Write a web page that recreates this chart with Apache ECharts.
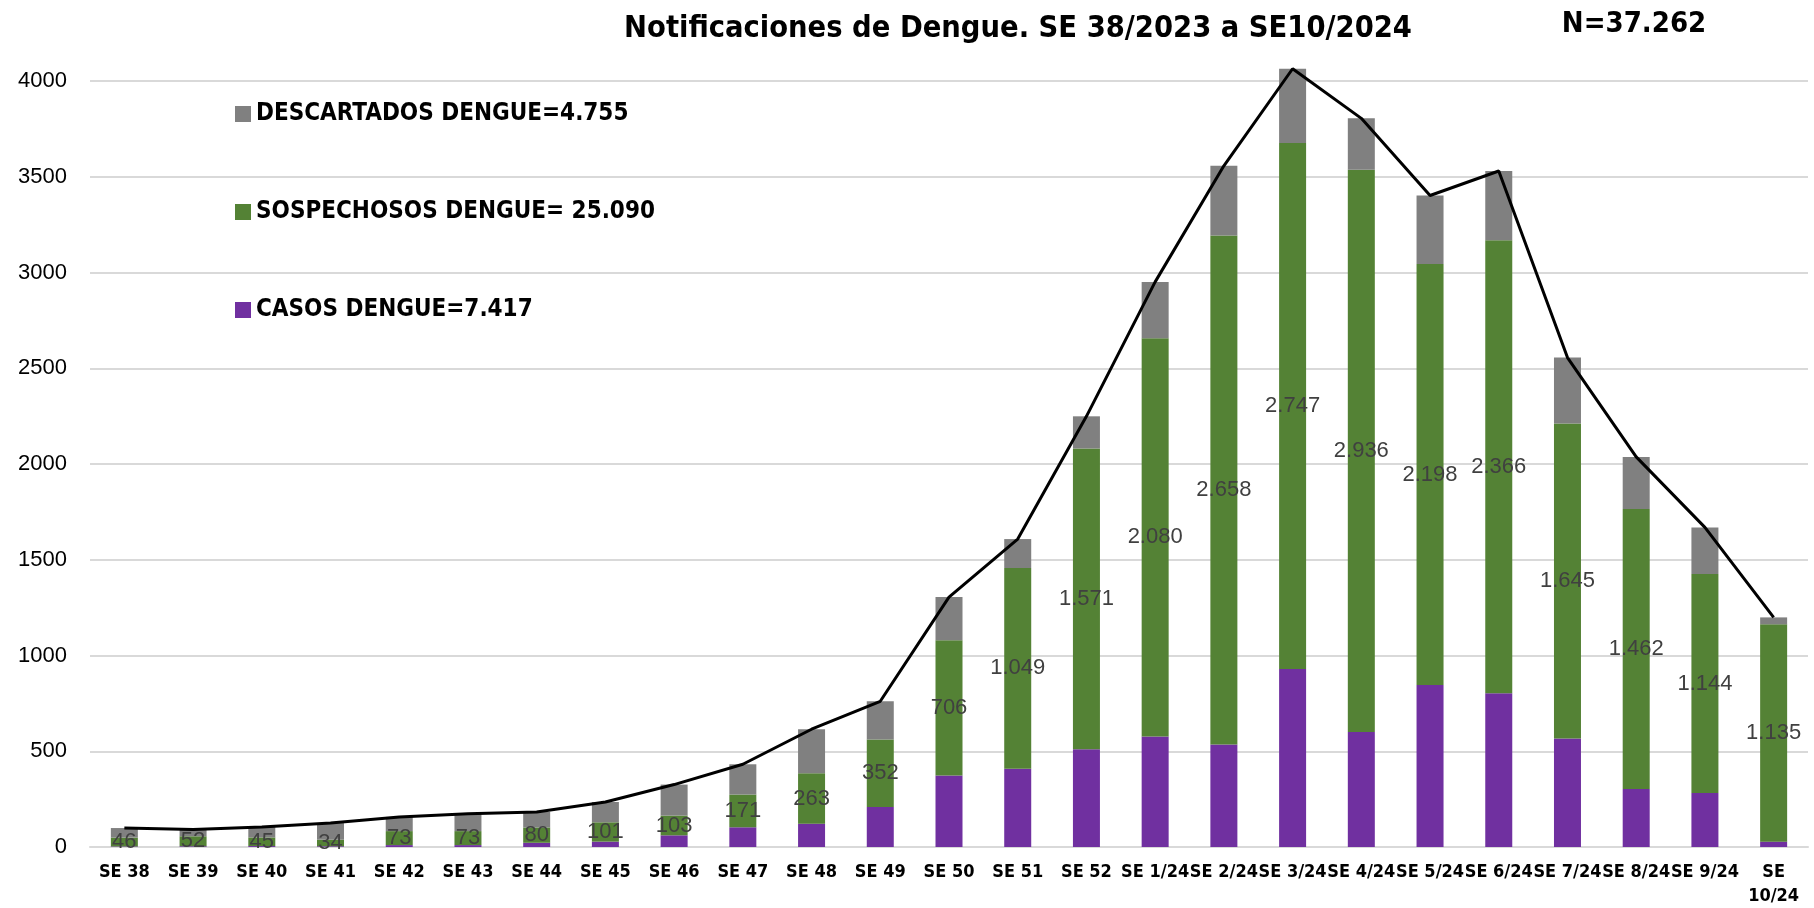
<!DOCTYPE html>
<html>
<head>
<meta charset="utf-8">
<script src="https://cdn.jsdelivr.net/npm/echarts@6/dist/echarts.min.js"></script>
<style>html,body{margin:0;padding:0;background:#fff}#chart{width:1814px;height:908px}</style>
</head>
<body>
<div id="chart"></div>
<script>
const categories = ['SE 38','SE 39','SE 40','SE 41','SE 42','SE 43','SE 44','SE 45','SE 46','SE 47','SE 48','SE 49','SE 50','SE 51','SE 52','SE 1/24','SE 2/24','SE 3/24','SE 4/24','SE 5/24','SE 6/24','SE 7/24','SE 8/24','SE 9/24','SE 10/24'];
const casos = [3,4,5,4,10,10,22,28,61,103,122,209,373,408,510,577,535,929,601,846,803,566,303,282,28];
const sospechosos = [46,52,45,34,73,73,80,101,103,171,263,352,706,1049,1571,2080,2658,2747,2936,2198,2366,1645,1462,1144,1135];
const descartados = [50,35,55,87,74,91,81,106,162,158,230,200,226,151,168,294,364,388,268,358,361,345,272,243,36];
const yTicks = [0,500,1000,1500,2000,2500,3000,3500,4000];
const titleText = 'Notificaciones de Dengue. SE 38/2023 a SE10/2024';
const totalText = 'N=37.262';
const nameDesc = 'DESCARTADOS DENGUE=4.755';
const nameSosp = 'SOSPECHOSOS DENGUE= 25.090';
const nameCasos = 'CASOS DENGUE=7.417';

const totales = categories.map((c,i)=>casos[i]+sospechosos[i]+descartados[i]);
const fmt = v => String(v).replace(/\B(?=(\d{3})+(?!\d))/g,'.');
const NARROW = '"Liberation Sans Narrow","DejaVu Sans Condensed","Liberation Sans",sans-serif';
const REG = '"Liberation Sans",Arial,sans-serif';

const chart = echarts.init(document.getElementById('chart'));
chart.setOption({
  animation:false,
  backgroundColor:'#fff',
  title:[
    {text:titleText,left:1013,top:9,textAlign:'center',textStyle:{fontFamily:NARROW,fontWeight:'bold',fontSize:30.5,color:'#000'}},
    {text:totalText,left:1629,top:5,textAlign:'center',textStyle:{fontFamily:NARROW,fontWeight:'bold',fontSize:29,color:'#000'}}
  ],
  legend:{
    orient:'vertical',left:230,top:97,itemWidth:16,itemHeight:16,itemGap:74,
    data:[nameDesc,nameSosp,nameCasos],
    textStyle:{fontFamily:NARROW,fontWeight:'bold',fontSize:24,color:'#000'},
    icon:'rect'
  },
  grid:{left:90,right:6,top:81,bottom:61,containLabel:false},
  xAxis:{
    type:'category',data:categories,
    axisLine:{lineStyle:{color:'#d9d9d9',width:2}},
    axisTick:{show:false},
    axisLabel:{interval:0,margin:13,fontFamily:NARROW,fontWeight:'bold',fontSize:18,color:'#000',lineHeight:24,
      formatter:v=>v==='SE 10/24'?'SE\n10/24':v}
  },
  yAxis:{
    type:'value',min:yTicks[0],max:yTicks[yTicks.length-1],interval:500,
    axisLine:{show:false},axisTick:{show:false},
    axisLabel:{margin:23,fontFamily:REG,fontSize:22,color:'#000',formatter:v=>String(v)},
    splitLine:{lineStyle:{color:'#d9d9d9',width:2}}
  },
  series:[
    {name:nameCasos,type:'bar',stack:'t',data:casos,barWidth:27,clip:false,itemStyle:{color:'#7030a0'}},
    {name:nameSosp,type:'bar',stack:'t',data:sospechosos,barWidth:27,clip:false,itemStyle:{color:'#548235'},
      label:{show:true,position:'inside',formatter:p=>fmt(p.value),fontFamily:REG,fontSize:22,color:'#404040'}},
    {name:nameDesc,type:'bar',stack:'t',data:descartados,barWidth:27,clip:false,itemStyle:{color:'#808080'}},
    {name:'Total',type:'line',data:totales,clip:false,symbol:'none',lineStyle:{color:'#000',width:3},z:5}
  ]
});
</script>
</body>
</html>
